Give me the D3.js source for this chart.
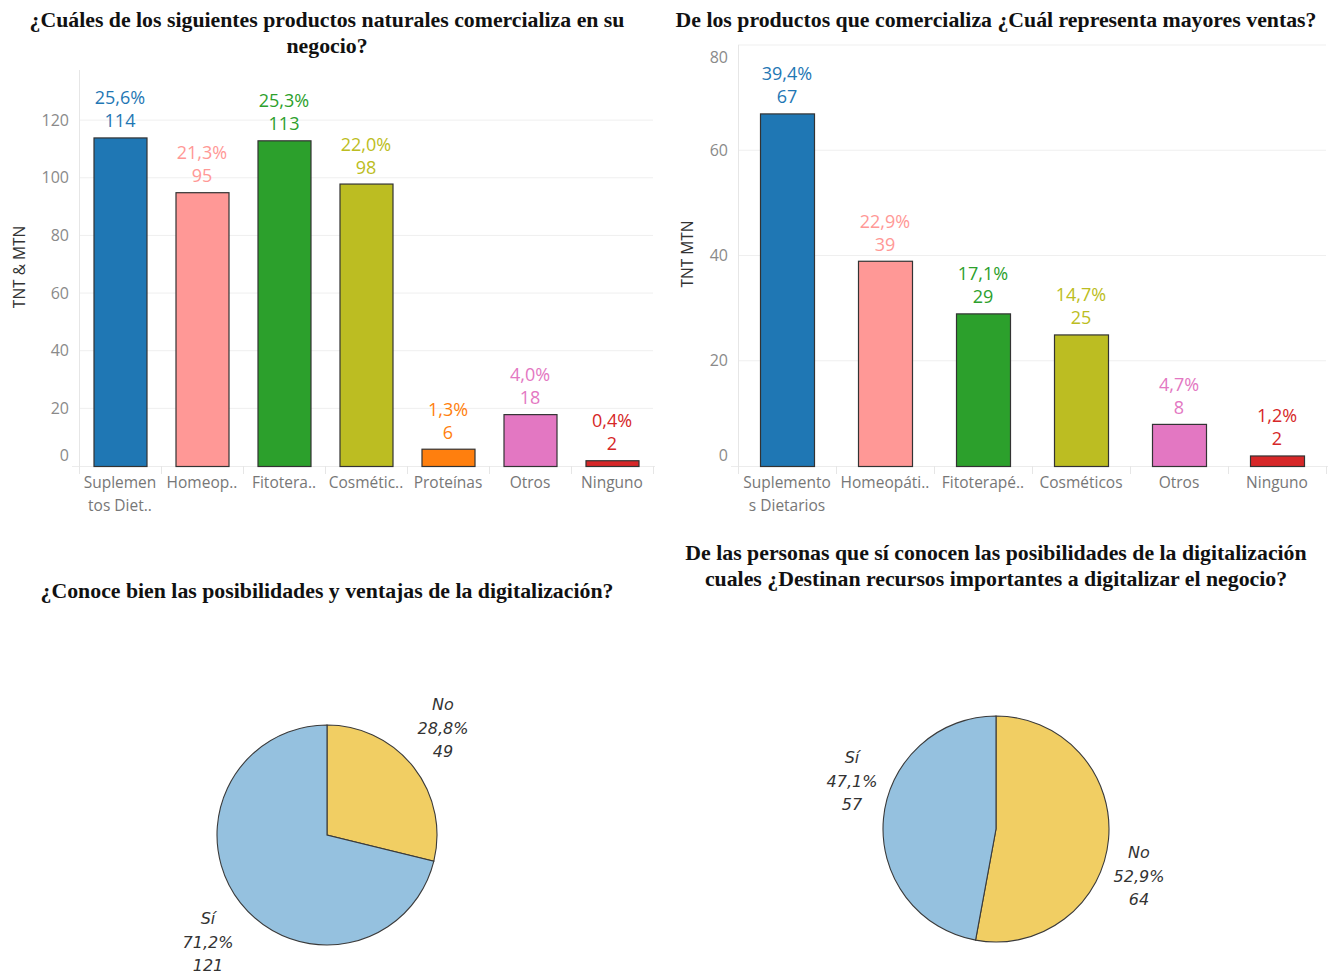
<!DOCTYPE html>
<html>
<head>
<meta charset="utf-8">
<script src="https://cdn.jsdelivr.net/npm/d3@7"></script>
<style>
  html, body { margin: 0; padding: 0; background: #fff; }
  svg { display: block; }
  .title { font-family: "Liberation Serif", "Times New Roman", serif; font-weight: bold; font-size: 21.8px; fill: #111; }
  .tick-y { font-family: "Open Sans", "Noto Sans", sans-serif; font-size: 16px; fill: #8a8a8a; }
  .tick-x { font-family: "Open Sans", "Noto Sans", sans-serif; font-size: 15.5px; fill: #777; }
  .ytitle { font-family: "Open Sans", "Noto Sans", sans-serif; font-size: 15.5px; fill: #333; }
  .barlabel { font-family: "Open Sans", "Noto Sans", sans-serif; font-size: 18px; }
  .pielabel { font-family: "DejaVu Sans", "Open Sans", sans-serif; font-size: 16px; font-style: italic; fill: #333; }
</style>
</head>
<body>
<svg id="chart" width="1338" height="978"></svg>
<script>
// Chart 1: natural products sold
const productCategories = ["Suplementos Dietarios", "Homeopáticos", "Fitoterapéuticos", "Cosméticos", "Proteínas", "Otros", "Ninguno"];
const productTickLabels = [["Suplemen", "tos Diet.."], ["Homeop.."], ["Fitotera.."], ["Cosmétic.."], ["Proteínas"], ["Otros"], ["Ninguno"]];
const productCounts = [114, 95, 113, 98, 6, 18, 2];
const productPercents = ["25,6%", "21,3%", "25,3%", "22,0%", "1,3%", "4,0%", "0,4%"];
const productColors = ["#1f77b4", "#ff9896", "#2ca02c", "#bcbd22", "#ff7f0e", "#e377c2", "#d62728"];
const productTicks = [0, 20, 40, 60, 80, 100, 120];

// Chart 2: product with the highest sales
const salesCategories = ["Suplementos Dietarios", "Homeopáticos", "Fitoterapéuticos", "Cosméticos", "Otros", "Ninguno"];
const salesTickLabels = [["Suplemento", "s Dietarios"], ["Homeopáti.."], ["Fitoterapé.."], ["Cosméticos"], ["Otros"], ["Ninguno"]];
const salesCounts = [67, 39, 29, 25, 8, 2];
const salesPercents = ["39,4%", "22,9%", "17,1%", "14,7%", "4,7%", "1,2%"];
const salesColors = ["#1f77b4", "#ff9896", "#2ca02c", "#bcbd22", "#e377c2", "#d62728"];
const salesTicks = [0, 20, 40, 60, 80];

// Chart 3: knows the benefits of digitalization
const knowLabels = ["No", "Sí"];
const knowCounts = [49, 121];
const knowPercents = ["28,8%", "71,2%"];

// Chart 4: invests in digitalization
const investLabels = ["No", "Sí"];
const investCounts = [64, 57];
const investPercents = ["52,9%", "47,1%"];

const pieColors = { "No": "#f1ce63", "Sí": "#95c1df" };

const svg = d3.select("#chart");

function titleLines(lines, cx, y0, lh) {
  lines.forEach((t, i) => {
    svg.append("text").attr("class", "title")
      .attr("x", cx).attr("y", y0 + i * lh)
      .attr("text-anchor", "middle").text(t);
  });
}

function barChart(opt) {
  const g = svg.append("g");
  const xb = d3.scaleBand().domain(opt.categories).range([opt.left, opt.right]);
  const y = d3.scaleLinear().domain([0, opt.yMax]).range([opt.bottom, opt.top]);
  const bw = opt.barWidth;
  const barX = c => xb(c) + (xb.bandwidth() - bw) / 2;

  // gridlines
  g.selectAll(".grid").data(opt.ticks.filter(d => d > 0)).join("line")
    .attr("x1", opt.left).attr("x2", opt.right)
    .attr("y1", d => y(d)).attr("y2", d => y(d))
    .attr("stroke", "#efefef").attr("stroke-width", 1);

  // y axis line
  g.append("line").attr("x1", opt.left + 0.5).attr("x2", opt.left + 0.5)
    .attr("y1", opt.top).attr("y2", opt.bottom + 8)
    .attr("stroke", "#e6e6e6");

  // y tick labels (the extremes are nudged inside the plot area)
  g.selectAll(".ylab").data(opt.ticks).join("text")
    .attr("class", "tick-y").attr("text-anchor", "end")
    .attr("x", opt.left - 10)
    .attr("y", d => {
      let yy = y(d) + 5.5;
      if (d === 0) yy = y(d) - 5;
      if (d === opt.yMax) yy = y(d) + 18;
      return yy;
    })
    .text(d => d);

  // y axis title
  g.append("text").attr("class", "ytitle")
    .attr("transform", `translate(${opt.yTitleX},${opt.yTitleY}) rotate(-90)`)
    .attr("text-anchor", "middle").text(opt.yTitle);

  // x baseline and category separators
  g.append("line").attr("x1", opt.left - 7).attr("x2", opt.right + 2)
    .attr("y1", opt.bottom + 0.5).attr("y2", opt.bottom + 0.5)
    .attr("stroke", "#ececec");
  g.selectAll(".sep").data(opt.categories).join("line")
    .attr("x1", d => xb(d) + 0.5).attr("x2", d => xb(d) + 0.5)
    .attr("y1", opt.bottom).attr("y2", opt.bottom + 8)
    .attr("stroke", "#e6e6e6");
  g.append("line").attr("x1", opt.right + 0.5).attr("x2", opt.right + 0.5)
    .attr("y1", opt.bottom).attr("y2", opt.bottom + 8).attr("stroke", "#e6e6e6");

  // bars
  g.selectAll(".bar").data(opt.counts).join("rect")
    .attr("x", (d, i) => barX(opt.categories[i]) + 0.5)
    .attr("y", d => y(d) + 0.5)
    .attr("width", bw)
    .attr("height", d => opt.bottom - y(d))
    .attr("fill", (d, i) => opt.colors[i])
    .attr("stroke", "#333").attr("stroke-width", 1.2);

  // value labels
  opt.counts.forEach((d, i) => {
    const cx = barX(opt.categories[i]) + bw / 2;
    g.append("text").attr("class", "barlabel").attr("text-anchor", "middle")
      .attr("x", cx).attr("y", y(d) - 10).attr("fill", opt.colors[i]).text(d);
    g.append("text").attr("class", "barlabel").attr("text-anchor", "middle")
      .attr("x", cx).attr("y", y(d) - 33).attr("fill", opt.colors[i]).text(opt.percents[i]);
  });

  // x tick labels
  opt.categories.forEach((c, i) => {
    const cx = xb(c) + xb.bandwidth() / 2;
    opt.tickLabels[i].forEach((t, j) => {
      g.append("text").attr("class", "tick-x").attr("text-anchor", "middle")
        .attr("x", cx).attr("y", opt.bottom + 22 + j * 23).text(t);
    });
  });
}

function pieChart(opt) {
  const g = svg.append("g").attr("transform", `translate(${opt.cx},${opt.cy})`);
  const pie = d3.pie().sort(null).value(d => d.v);
  const data = opt.labels.map((l, i) => ({ l, v: opt.counts[i], p: opt.percents[i] }));
  const arcs = pie(data);
  const arc = d3.arc().innerRadius(0).outerRadius(opt.r);
  g.selectAll("path").data(arcs).join("path")
    .attr("d", arc)
    .attr("fill", d => pieColors[d.data.l])
    .attr("stroke", "#3a3a3a").attr("stroke-width", 1.1);

  arcs.forEach((a, i) => {
    const pos = opt.labelPos[i];
    const lines = [a.data.l, a.data.p, String(a.data.v)];
    lines.forEach((t, j) => {
      g.append("text").attr("class", "pielabel").attr("text-anchor", "middle")
        .attr("x", pos[0]).attr("y", pos[1] + j * 23.5).text(t);
    });
  });
}

// titles
titleLines(["¿Cuáles de los siguientes productos naturales comercializa en su", "negocio?"], 327, 27, 25.5);
titleLines(["De los productos que comercializa ¿Cuál representa mayores ventas?"], 996, 27, 25);
titleLines(["¿Conoce bien las posibilidades y ventajas de la digitalización?"], 327, 598, 25);
titleLines(["De las personas que sí conocen las posibilidades de la digitalización",
            "cuales ¿Destinan recursos importantes a digitalizar el negocio?"], 996, 560, 26);

barChart({
  categories: productCategories, tickLabels: productTickLabels, counts: productCounts,
  percents: productPercents, colors: productColors, ticks: productTicks,
  left: 79, right: 653, top: 70, bottom: 466, yMax: 137.4, barWidth: 53,
  yTitle: "TNT & MTN", yTitleX: 25, yTitleY: 267
});

barChart({
  categories: salesCategories, tickLabels: salesTickLabels, counts: salesCounts,
  percents: salesPercents, colors: salesColors, ticks: salesTicks,
  left: 738, right: 1326, top: 45, bottom: 466, yMax: 80, barWidth: 54,
  yTitle: "TNT MTN", yTitleX: 693, yTitleY: 254
});

pieChart({
  labels: knowLabels, counts: knowCounts, percents: knowPercents,
  cx: 327, cy: 835, r: 110,
  labelPos: [[116, -125], [-119, 89]]
});

pieChart({
  labels: investLabels, counts: investCounts, percents: investPercents,
  cx: 996, cy: 829, r: 113,
  labelPos: [[143, 29], [-144, -66]]
});
</script>
</body>
</html>
